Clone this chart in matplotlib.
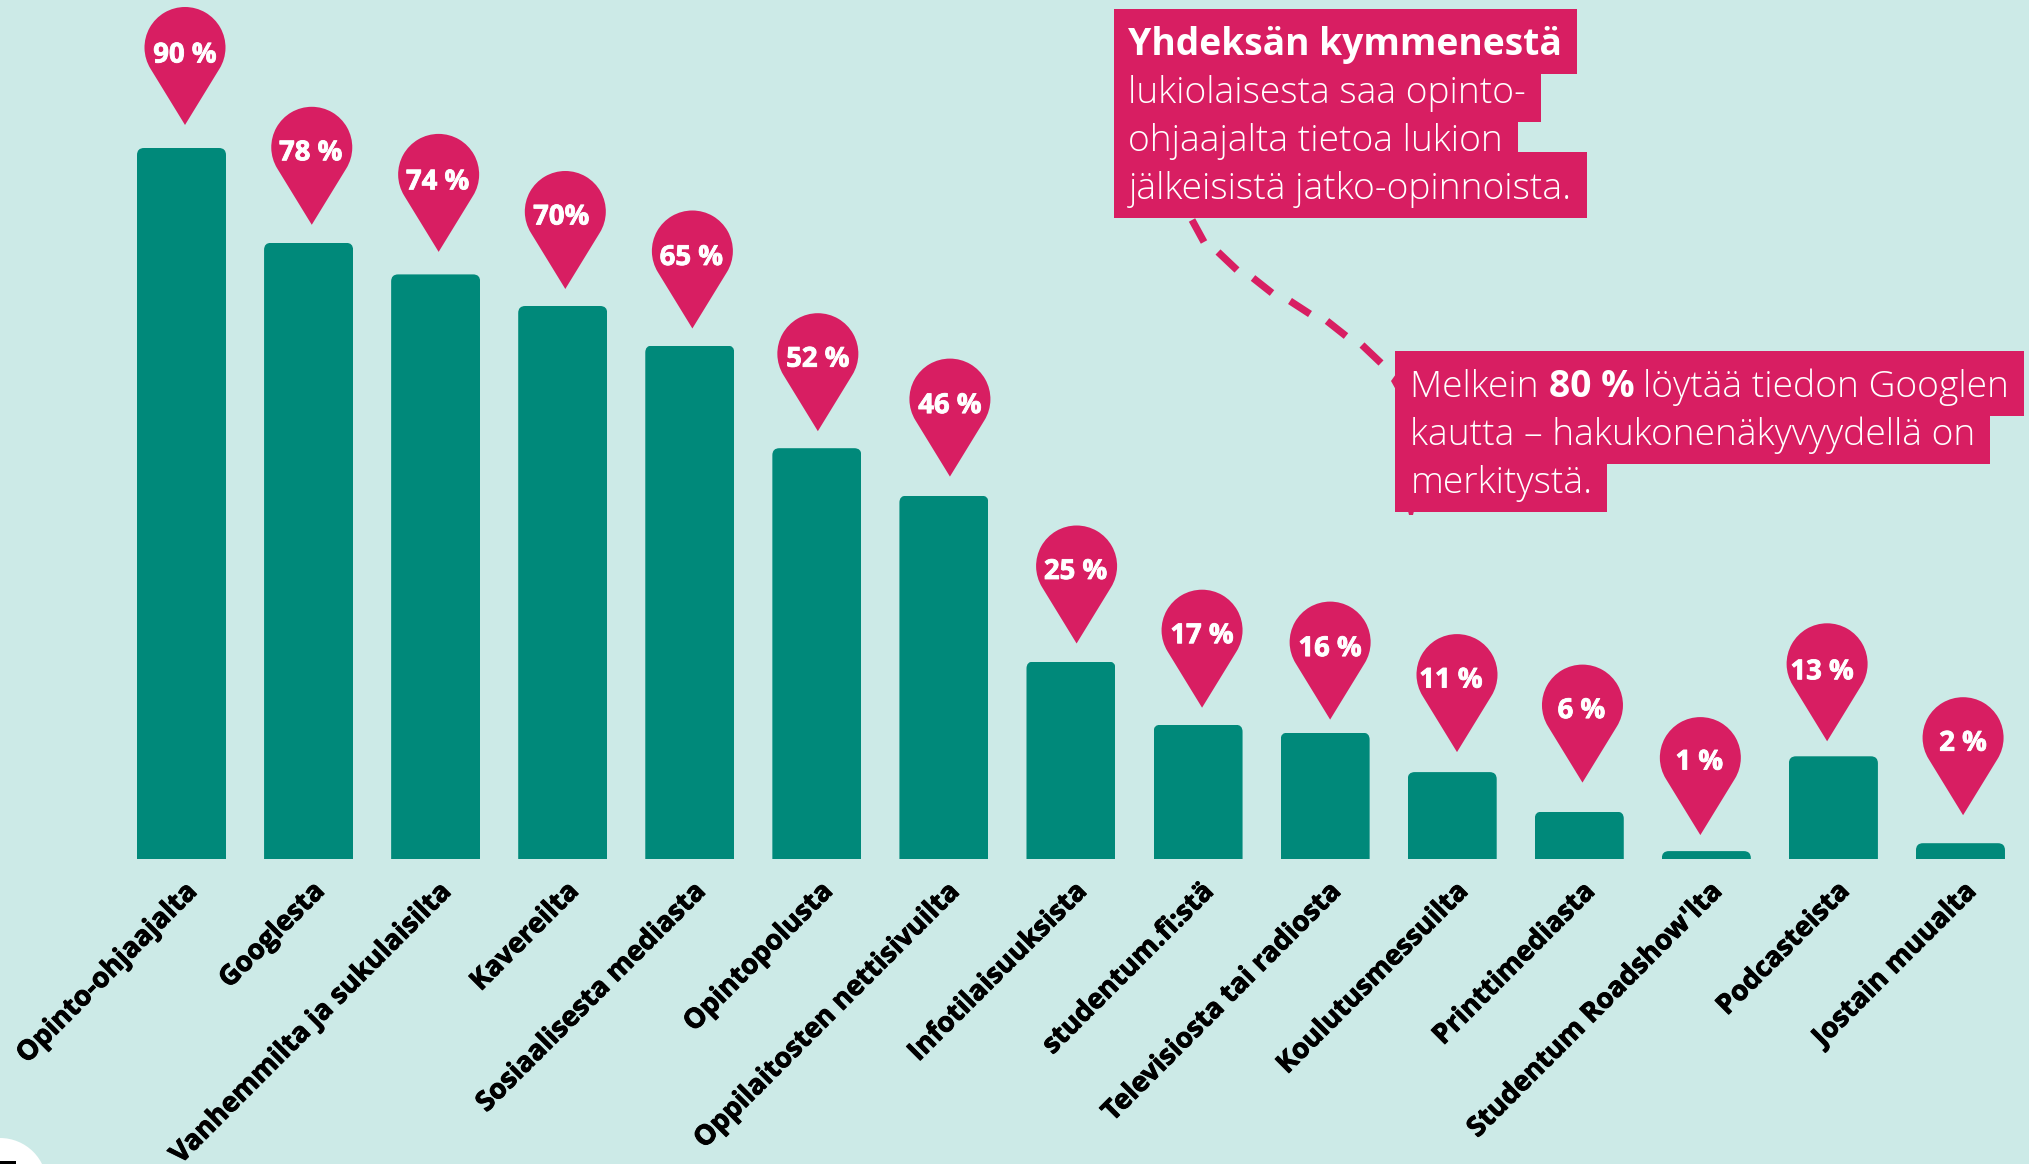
import math
import matplotlib
matplotlib.use("Agg")
import matplotlib.pyplot as plt
import matplotlib.patheffects as pe
from matplotlib.path import Path
from matplotlib.patches import PathPatch, Circle, Rectangle, Polygon
from matplotlib.transforms import Affine2D, ScaledTranslation

W, H = 2029, 1164
BG, TEAL, PINK = "#CCEAE7", "#00897A", "#D81E62"

categories = ["Opinto-ohjaajalta", "Googlesta", "Vanhemmilta ja sukulaisilta", "Kavereilta",
              "Sosiaalisesta mediasta", "Opintopolusta", "Oppilaitosten nettisivuilta",
              "Infotilaisuuksista", "studentum.fi:stä", "Televisiosta tai radiosta",
              "Koulutusmessuilta", "Printtimediasta", "Studentum Roadshow'lta",
              "Podcasteista", "Jostain muualta"]
values = [90, 78, 74, 70, 65, 52, 46, 25, 17, 16, 11, 6, 1, 13, 2]
value_labels = ["90 %", "78 %", "74 %", "70%", "65 %", "52 %", "46 %", "25 %", "17 %",
                "16 %", "11 %", "6 %", "1 %", "13 %", "2 %"]
# pin tip offsets from the bar's top centre, and label nudges inside the pin, in pixels
pin_dx = [3.5, 3.2, 3, 2.6, 2.6, 1, 6, 5.6, 4, 5, 4.8, 3.2, -6, -6.3, 2.6]
pin_gap = [23, 18, 22.5, 17, 17, 17, 19, 18, 17, 13, 20, 29, 16, 15, 28]
label_dx = [1, 0, 0, -3, 0, 1, 1, 0, 1, 1, -5, 0, 0, -4, 1]
label_dy = [-2, 0, -2, 0, -1, 0, -1, 0, 0, -1, 0, 0, 1, -2.5, 0]

PITCH, PX_PER_UNIT, X0, BASE = 127.07, 7.9, 181.5, 859

fig = plt.figure(figsize=(W / 100, H / 100), dpi=100, facecolor=BG)
ax = fig.add_axes([0, 0, 1, 1], facecolor=BG)
ax.set_xlim(-X0 / PITCH, (W - X0) / PITCH)
ax.set_ylim(-(H - BASE) / PX_PER_UNIT, BASE / PX_PER_UNIT)
for s in ax.spines.values():
    s.set_visible(False)
ax.spines["bottom"].set_position(("data", 0))
ax.set_yticks([])

px = Affine2D().scale(1, -1).translate(0, H)  # pixel coordinates, y down


def rounded_top(x0, x1, h, rx, ry):
    ry = min(ry, h)
    v = [(x0, 0), (x0, h - ry), (x0, h), (x0 + rx, h), (x1 - rx, h), (x1, h), (x1, h - ry), (x1, 0), (x0, 0)]
    c = [Path.MOVETO, Path.LINETO, Path.CURVE3, Path.CURVE3, Path.LINETO, Path.CURVE3, Path.CURVE3,
         Path.LINETO, Path.CLOSEPOLY]
    return Path(v, c)


bar_w = 89 / PITCH
xs = list(range(len(values)))
bars = ax.bar(xs, values, width=bar_w, color=TEAL, linewidth=0, zorder=2)
for b in bars:
    clip = PathPatch(rounded_top(b.get_x(), b.get_x() + bar_w, b.get_height(), 7 / PITCH, 7 / PX_PER_UNIT),
                     transform=ax.transData, fc="none", ec="none")
    b.set_clip_path(clip)

ax.set_xticks(xs)
ax.set_xticklabels(categories, rotation=45, ha="right", va="center", rotation_mode="anchor",
                   family="Open Sans", fontweight="bold", fontsize=19.8, color="black")
ax.tick_params(axis="x", length=0, pad=0)
off = ScaledTranslation(12 / 100, -28 / 100, fig.dpi_scale_trans)
for t in ax.get_xticklabels():
    t.set_transform(t.get_transform() + off)
    t.set_path_effects([pe.withStroke(linewidth=0.7, foreground="black")])

# map pin: path with tip at origin, y up, in pixels
R, D = 40.5, 77.5
a = math.degrees(math.acos(R / D))
arc = Path.arc(-90 + a, 270 - a)
verts = [(0, 0)] + [(R * x, D + R * y) for x, y in arc.vertices] + [(0, 0)]
codes = [Path.MOVETO] + [Path.LINETO] + list(arc.codes[1:]) + [Path.CLOSEPOLY]
pin = Path(verts, codes)
for x, v, lab, dx, gap, ldx, ldy in zip(xs, values, value_labels, pin_dx, pin_gap, label_dx, label_dy):
    tx, ty = ax.transData.transform((x, v))
    tx += dx
    ty += gap
    ax.add_patch(PathPatch(pin, transform=Affine2D().translate(tx, ty), fc=PINK, ec="none", zorder=4))
    lt = ax.text(tx - 1 + ldx, ty + 72 + ldy, lab, transform=Affine2D(), ha="center", va="center",
                 family="Open Sans", fontweight="bold", fontsize=19.8, color="white", zorder=5)
    lt.set_path_effects([pe.withStroke(linewidth=0.6, foreground="white")])

# dashed leader
dashes = [((1192, 220), (1204, 242)), ((1218, 252), (1237, 270)), ((1253, 278), (1272, 293)),
          ((1290, 301), (1310, 314)), ((1327, 321), (1346, 336)), ((1362, 345), (1381, 363))]
for p, q in dashes:
    ax.plot([p[0], q[0]], [p[1], q[1]], transform=px, color=PINK, lw=5.2, solid_capstyle="butt", zorder=3)
ax.add_patch(Polygon([(1396, 374), (1391, 381), (1396, 390)], transform=px, fc=PINK, ec="none", zorder=3))
ax.add_patch(Polygon([(1408, 511), (1409, 515), (1413, 515), (1414, 511)], transform=px, fc=PINK, ec="none", zorder=3))


def stepped(x0, top, steps):
    v = [(x0, top)]
    y = top
    for r, b in steps:
        v += [(r, y), (r, b)]
        y = b
    v += [(x0, y), (x0, top)]
    return Path(v, [Path.MOVETO] + [Path.LINETO] * (len(v) - 2) + [Path.CLOSEPOLY])


ax.add_patch(PathPatch(stepped(1114, 9, [(1577, 74), (1541, 122), (1518, 152), (1587, 218)]),
                       transform=px, fc=PINK, ec="none", zorder=6))
ax.add_patch(PathPatch(stepped(1395, 351, [(2024, 416), (1990, 464), (1607, 512)]),
                       transform=px, fc=PINK, ec="none", zorder=6))
ax.add_patch(Circle((0, 1185), 47, transform=px, fc="white", ec="none", zorder=1))
ax.add_patch(Rectangle((0, 1161), 16, 3, transform=px, fc="black", ec="none", zorder=1))

FS = 26.8
LIGHT = dict(family="Open Sans", fontsize=FS, color="white", fontweight=300, va="baseline", transform=px, zorder=7)
BOLD = dict(LIGHT, fontweight="bold")
ax.text(1128.5, 55, "Yhdeksän kymmenestä", **BOLD)
for y, s in zip((103, 151, 199), ("lukiolaisesta saa opinto-", "ohjaajalta tietoa lukion", "jälkeisistä jatko-opinnoista.")):
    ax.text(1128.5, y, s, **LIGHT)
t1 = ax.text(1410.5, 397, "Melkein ", **LIGHT)
r = fig.canvas.get_renderer()
e = t1.get_window_extent(r)
t2 = ax.text(e.x1 + 0, 397, "80 %", **BOLD)
e2 = t2.get_window_extent(r)
ax.text(e2.x1 + 9, 397, "löytää tiedon Googlen", **LIGHT)
ax.text(1410.5, 445, "kautta – hakukonenäkyvyydellä on", **LIGHT)
ax.text(1410.5, 493, "merkitystä.", **LIGHT)

fig.savefig("out.png", dpi=100, facecolor=BG)
